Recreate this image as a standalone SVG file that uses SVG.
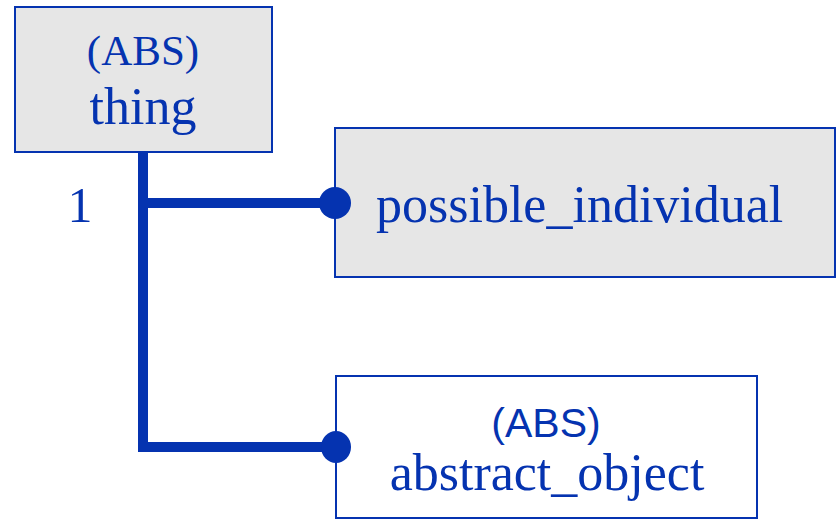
<svg xmlns="http://www.w3.org/2000/svg" width="838" height="520" viewBox="0 0 838 520">
  <style>
    .box { stroke: #0533b0; stroke-width: 2; }
    .grey { fill: #e6e6e6; }
    .white { fill: #ffffff; }
    .serif { font-family: "Liberation Serif", "Times New Roman", serif; fill: #0533b0; }
    .sans { font-family: "Liberation Sans", Arial, sans-serif; fill: #0533b0; }
    .link { stroke: #0533b0; stroke-width: 10; fill: none; }
    .dot { fill: #0533b0; }
  </style>
  <rect width="838" height="520" fill="#ffffff"/>

  <g id="thing">
    <rect class="box grey" x="15" y="7" width="257" height="145"/>
    <text class="serif" x="143" y="65" font-size="43" text-anchor="middle">(ABS)</text>
    <text class="serif" x="143" y="124" font-size="52" text-anchor="middle">thing</text>
  </g>

  <g id="possible_individual">
    <rect class="box grey" x="335" y="128" width="500" height="149"/>
    <text class="serif" x="376" y="222" font-size="52">possible_individual</text>
  </g>

  <g id="abstract_object">
    <rect class="box white" x="336" y="376" width="421" height="142"/>
    <text class="sans" x="546" y="437" font-size="41" text-anchor="middle">(ABS)</text>
    <text class="serif" x="547" y="490" font-size="52" text-anchor="middle">abstract_object</text>
  </g>

  <!-- tree links from thing to its two children, with end dots -->
  <g id="connectors">
    <polyline class="link" points="143,152 143,447 336,447"/>
    <line class="link" x1="143" y1="203" x2="335" y2="203"/>
    <circle class="dot" cx="335" cy="203" r="16"/>
    <ellipse class="dot" cx="336" cy="447" rx="15" ry="16"/>
    <text class="serif" x="80" y="222" font-size="50" text-anchor="middle">1</text>
  </g>
</svg>
